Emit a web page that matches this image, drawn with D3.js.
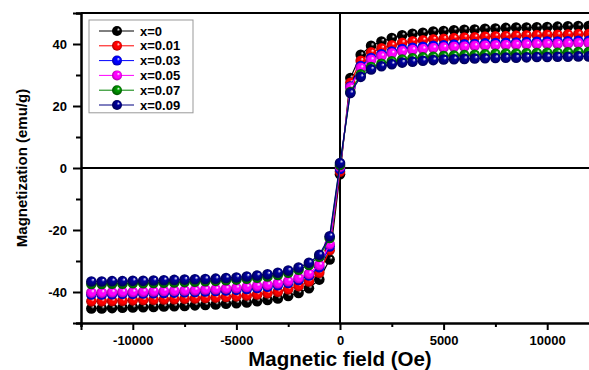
<!DOCTYPE html>
<html>
<head>
<meta charset="utf-8">
<script src="https://cdn.jsdelivr.net/npm/d3@7"></script>
<style>
  body { margin: 0; background: #fff; }
  svg { display: block; font-family: "Liberation Sans", Arial, sans-serif; font-weight: bold; }
</style>
</head>
<body>
<svg id="chart" width="589" height="370"></svg>
<script>
var width = 589,
  height = 370;

// applied field (Oe)
var fieldOe = [-12000, -11500, -11000, -10500, -10000, -9500, -9000, -8500, -8000, -7500, -7000, -6500,
  -6000, -5500, -5000, -4500, -4000, -3500, -3000, -2500, -2000, -1500, -1000, -500, 0,
  500, 1000, 1500, 2000, 2500, 3000, 3500, 4000, 4500, 5000, 5500, 6000, 6500,
  7000, 7500, 8000, 8500, 9000, 9500, 10000, 10500, 11000, 11500, 12000];

// magnetization (emu/g) per sample
var m0 = [-45.3, -45.3, -45.2, -45.1, -45.0, -44.9, -44.8, -44.7, -44.6, -44.5, -44.3, -44.2, -44.0, -43.8, -43.6, -43.4, -43.0, -42.6, -42.1, -41.3, -40.3, -38.8, -36.0, -29.5,
  -2.0,
  29.0, 36.5, 39.4, 40.8, 41.9, 42.8, 43.3, 43.6, 44.0, 44.2, 44.4, 44.6, 44.7, 44.9, 45.0, 45.2, 45.3, 45.3, 45.4, 45.5, 45.6, 45.7, 45.8, 45.8];
var m001 = [-43.0, -43.0, -42.9, -42.8, -42.7, -42.6, -42.5, -42.4, -42.3, -42.2, -42.1, -41.9, -41.8, -41.6, -41.4, -41.1, -40.8, -40.4, -39.9, -39.1, -38.1, -36.6, -33.8, -26.5,
  -1.2,
  27.5, 34.6, 37.3, 38.6, 39.6, 40.4, 40.9, 41.2, 41.5, 41.7, 41.9, 42.1, 42.2, 42.4, 42.5, 42.6, 42.7, 42.8, 42.9, 43.0, 43.0, 43.1, 43.2, 43.2];
var m003 = [-40.8, -40.8, -40.7, -40.6, -40.6, -40.5, -40.4, -40.3, -40.2, -40.1, -40.0, -39.8, -39.7, -39.5, -39.3, -39.0, -38.7, -38.3, -37.8, -37.1, -36.1, -34.7, -32.0, -25.3,
  -0.3,
  26.3, 32.9, 35.5, 36.7, 37.6, 38.4, 38.8, 39.1, 39.4, 39.6, 39.8, 39.9, 40.0, 40.2, 40.3, 40.4, 40.5, 40.6, 40.7, 40.8, 40.8, 40.9, 41.0, 41.0];
var m005 = [-40.2, -40.2, -40.1, -40.0, -40.0, -39.9, -39.8, -39.7, -39.6, -39.5, -39.4, -39.2, -39.1, -38.9, -38.7, -38.4, -38.1, -37.7, -37.2, -36.5, -35.5, -34.1, -31.3, -24.6,
  0.4,
  26.0, 32.3, 34.9, 36.1, 37.0, 37.7, 38.1, 38.4, 38.7, 38.9, 39.1, 39.2, 39.4, 39.5, 39.6, 39.7, 39.8, 39.9, 40.0, 40.1, 40.1, 40.2, 40.3, 40.3];
var m007 = [-37.4, -37.4, -37.3, -37.3, -37.2, -37.2, -37.1, -37.0, -36.9, -36.8, -36.7, -36.5, -36.4, -36.2, -36.0, -35.7, -35.4, -35.0, -34.5, -33.8, -32.8, -31.3, -28.6, -22.6,
  1.0,
  24.5, 30.2, 32.6, 33.6, 34.4, 35.0, 35.4, 35.7, 35.9, 36.1, 36.3, 36.4, 36.5, 36.7, 36.8, 36.9, 36.9, 37.0, 37.1, 37.2, 37.2, 37.3, 37.4, 37.4];
var m009 = [-36.6, -36.6, -36.5, -36.5, -36.4, -36.4, -36.3, -36.2, -36.1, -36.0, -35.9, -35.8, -35.7, -35.5, -35.3, -35.0, -34.7, -34.3, -33.8, -33.1, -32.1, -30.6, -28.0, -22.0,
  1.6,
  24.2, 29.4, 31.8, 32.8, 33.5, 34.0, 34.3, 34.6, 34.8, 35.0, 35.1, 35.2, 35.3, 35.4, 35.5, 35.6, 35.6, 35.7, 35.8, 35.8, 35.9, 35.9, 36.0, 36.0];

var seriesNames = ["x=0", "x=0.01", "x=0.03", "x=0.05", "x=0.07", "x=0.09"];
var seriesValues = [m0, m001, m003, m005, m007, m009];
var seriesColors = ["#000000", "#ff0000", "#0000ff", "#ff00ff", "#008000", "#000080"];

var xMajor = [-10000, -5000, 0, 5000, 10000];
var xMinor = [-12500, -7500, -2500, 2500, 7500, 12500];
var yMajor = [-40, -20, 0, 20, 40];
var yMinor = [-50, -30, -10, 10, 30, 50];

var plot = { left: 81, top: 13, right: 599, bottom: 323 };

var x = d3.scaleLinear().domain([-12500, 12500]).range([plot.left, plot.right]);
var y = d3.scaleLinear().domain([-50, 50]).range([plot.bottom, plot.top]);

// plain hyphen for negatives, like the original figure
var tickFmt = function(d) { return String(d); };

var svg = d3.select("#chart");

// sphere-like marker fills
var defs = svg.append("defs");
seriesColors.forEach(function(c, i) {
  var g = defs.append("radialGradient")
    .attr("id", "ball" + i)
    .attr("cx", "50%").attr("cy", "50%").attr("r", "55%")
    .attr("fx", "68%").attr("fy", "32%");
  g.append("stop").attr("offset", "0%").attr("stop-color", "#ffffff");
  g.append("stop").attr("offset", "30%").attr("stop-color", d3.rgb(c).brighter(0.6));
  g.append("stop").attr("offset", "60%").attr("stop-color", c);
  g.append("stop").attr("offset", "100%").attr("stop-color", d3.rgb(c).darker(1.5));
});

// frame: top line and axes
svg.append("line")
  .attr("x1", plot.left).attr("x2", plot.right)
  .attr("y1", plot.top).attr("y2", plot.top)
  .attr("stroke", "#000").attr("stroke-width", 2);

function styleAxis(g) {
  g.select(".domain").attr("stroke-width", 2);
  g.selectAll(".tick line").attr("stroke-width", 2);
  g.selectAll("text").attr("font-size", 13).attr("font-weight", "bold")
    .attr("font-family", "'Liberation Sans', Arial, sans-serif").attr("fill", "#000");
}

svg.append("g")
  .attr("transform", "translate(0," + plot.bottom + ")")
  .call(d3.axisBottom(x).tickValues(xMajor).tickSize(7).tickPadding(6).tickFormat(tickFmt))
  .call(styleAxis);
svg.append("g")
  .attr("transform", "translate(0," + plot.bottom + ")")
  .call(d3.axisBottom(x).tickValues(xMinor).tickSize(4).tickFormat(""))
  .call(styleAxis);

svg.append("g")
  .attr("transform", "translate(" + plot.left + ",0)")
  .call(d3.axisLeft(y).tickValues(yMajor).tickSize(8).tickPadding(6).tickFormat(tickFmt))
  .call(styleAxis);
svg.append("g")
  .attr("transform", "translate(" + plot.left + ",0)")
  .call(d3.axisLeft(y).tickValues(yMinor).tickSize(5).tickFormat(""))
  .call(styleAxis);

// zero lines
svg.append("line")
  .attr("x1", plot.left).attr("x2", plot.right)
  .attr("y1", y(0)).attr("y2", y(0))
  .attr("stroke", "#000").attr("stroke-width", 2);
svg.append("line")
  .attr("x1", x(0)).attr("x2", x(0))
  .attr("y1", plot.top).attr("y2", plot.bottom)
  .attr("stroke", "#000").attr("stroke-width", 2);

// axis titles
svg.append("text")
  .attr("x", x(0)).attr("y", 366)
  .attr("text-anchor", "middle")
  .attr("font-size", 20.5)
  .text("Magnetic field (Oe)");

svg.append("text")
  .attr("transform", "translate(27," + y(0) + ") rotate(-90)")
  .attr("text-anchor", "middle")
  .attr("font-size", 15)
  .text("Magnetization (emu/g)");

// curves
var line = d3.line()
  .x(function(d) { return x(d.h); })
  .y(function(d) { return y(d.m); });

var series = seriesValues.map(function(vals, i) {
  return {
    name: seriesNames[i],
    color: seriesColors[i],
    idx: i,
    points: vals.map(function(v, j) { return { h: fieldOe[j], m: v }; })
  };
});

var sg = svg.selectAll(".series")
  .data(series)
  .enter().append("g")
  .attr("class", "series");

sg.append("path")
  .attr("d", function(d) { return line(d.points); })
  .attr("fill", "none")
  .attr("stroke", function(d) { return d.color; })
  .attr("stroke-width", 1.2);

sg.each(function(s) {
  d3.select(this).selectAll("circle")
    .data(s.points)
    .enter().append("circle")
    .attr("cx", function(d) { return x(d.h); })
    .attr("cy", function(d) { return y(d.m); })
    .attr("r", 5.3)
    .attr("fill", "url(#ball" + s.idx + ")");
});

// legend
var legendX = 89, legendY = 20, legendStep = 14.8;
svg.append("rect")
  .attr("x", legendX).attr("y", legendY)
  .attr("width", 104).attr("height", legendStep * seriesNames.length + 4)
  .attr("fill", "#fff")
  .attr("stroke", "#999").attr("stroke-width", 1);

var leg = svg.selectAll(".legend")
  .data(series)
  .enter().append("g")
  .attr("class", "legend")
  .attr("transform", function(d, i) { return "translate(" + legendX + "," + (legendY + 11 + i * legendStep) + ")"; });

leg.append("line")
  .attr("x1", 10).attr("x2", 45)
  .attr("stroke", function(d) { return d.color; })
  .attr("stroke-width", 1);
leg.append("circle")
  .attr("cx", 28).attr("r", 5)
  .attr("fill", function(d) { return "url(#ball" + d.idx + ")"; });
leg.append("text")
  .attr("x", 51).attr("dy", "0.35em")
  .attr("font-size", 13)
  .text(function(d) { return d.name; });
</script>
</body>
</html>
